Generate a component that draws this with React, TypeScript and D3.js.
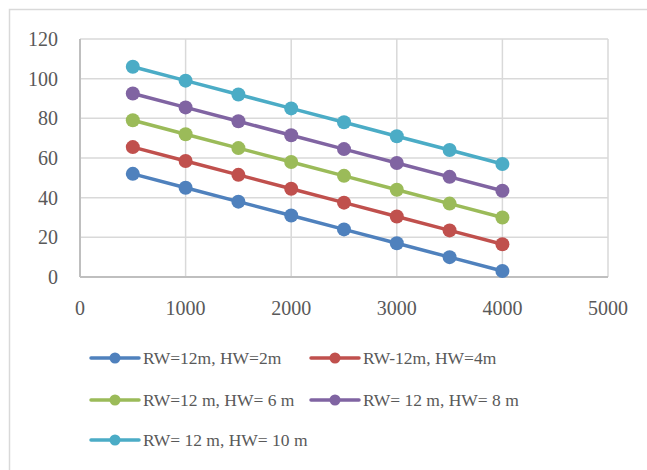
import { useEffect, useRef } from 'react';
import * as d3 from 'd3';

// x values (m) and series
const xValues = [500, 1000, 1500, 2000, 2500, 3000, 3500, 4000];
const seriesNames = [
  'RW=12m, HW=2m',
  'RW-12m, HW=4m',
  'RW=12 m, HW= 6 m',
  'RW= 12 m, HW= 8 m',
  'RW= 12 m, HW= 10 m',
];
const hw2 = [52, 45, 38, 31, 24, 17, 10, 3];
const hw4 = [65.5, 58.5, 51.5, 44.5, 37.5, 30.5, 23.5, 16.5];
const hw6 = [79, 72, 65, 58, 51, 44, 37, 30];
const hw8 = [92.5, 85.5, 78.5, 71.5, 64.5, 57.5, 50.5, 43.5];
const hw10 = [106, 99, 92, 85, 78, 71, 64, 57];
const seriesValues = [hw2, hw4, hw6, hw8, hw10];
const seriesColors = ['#4f81bd', '#c0504d', '#9bbb59', '#8064a2', '#4bacc6'];
const xTicks = [0, 1000, 2000, 3000, 4000, 5000];
const yTicks = [0, 20, 40, 60, 80, 100, 120];

export default function App() {
  const svgRef = useRef<SVGSVGElement>(null);

  useEffect(() => {
    if (!svgRef.current) return;
    const svg = d3.select(svgRef.current);
    svg.selectAll('*').remove();

    const font = '"Liberation Serif", "DejaVu Serif", serif';
    const textColor = '#595959';

    // outer chart frame
    svg
      .append('rect')
      .attr('x', 9.5)
      .attr('y', 9.5)
      .attr('width', 660)
      .attr('height', 480)
      .attr('fill', '#fff')
      .attr('stroke', '#d9d9d9')
      .attr('stroke-width', 1.5);

    const x = d3.scaleLinear().domain([0, 5000]).range([80, 608]);
    const y = d3.scaleLinear().domain([0, 120]).range([277, 39]);

    // grid
    svg
      .append('g')
      .selectAll('line')
      .data(xTicks)
      .enter()
      .append('line')
      .attr('x1', (d) => x(d))
      .attr('x2', (d) => x(d))
      .attr('y1', y(0))
      .attr('y2', y(120))
      .attr('stroke', '#d9d9d9')
      .attr('stroke-width', 1.5);

    svg
      .append('g')
      .selectAll('line')
      .data(yTicks)
      .enter()
      .append('line')
      .attr('x1', x(0))
      .attr('x2', x(5000))
      .attr('y1', (d) => y(d))
      .attr('y2', (d) => y(d))
      .attr('stroke', '#d9d9d9')
      .attr('stroke-width', 1.5);

    // axis lines
    svg
      .append('line')
      .attr('x1', x(0))
      .attr('x2', x(0))
      .attr('y1', y(0))
      .attr('y2', y(120))
      .attr('stroke', '#bfbfbf')
      .attr('stroke-width', 2);
    svg
      .append('line')
      .attr('x1', x(0))
      .attr('x2', x(5000))
      .attr('y1', y(0))
      .attr('y2', y(0))
      .attr('stroke', '#bfbfbf')
      .attr('stroke-width', 2);

    // tick labels
    svg
      .append('g')
      .selectAll('text')
      .data(yTicks)
      .enter()
      .append('text')
      .attr('x', 58)
      .attr('y', (d) => y(d) + 7)
      .attr('text-anchor', 'end')
      .attr('font-family', font)
      .attr('font-size', 20)
      .attr('fill', textColor)
      .text((d) => d);

    svg
      .append('g')
      .selectAll('text')
      .data(xTicks)
      .enter()
      .append('text')
      .attr('x', (d) => x(d))
      .attr('y', 315)
      .attr('text-anchor', 'middle')
      .attr('font-family', font)
      .attr('font-size', 20)
      .attr('fill', textColor)
      .text((d) => d);

    // series
    const line = d3
      .line<number>()
      .x((_, i) => x(xValues[i]))
      .y((d) => y(d));

    seriesValues.forEach((vals, s) => {
      const g = svg.append('g');
      g.append('path')
        .attr('d', line(vals))
        .attr('fill', 'none')
        .attr('stroke', seriesColors[s])
        .attr('stroke-width', 3.5)
        .attr('stroke-linejoin', 'round');
      g.selectAll('circle')
        .data(vals)
        .enter()
        .append('circle')
        .attr('cx', (_, i) => x(xValues[i]))
        .attr('cy', (d) => y(d))
        .attr('r', 7)
        .attr('fill', seriesColors[s]);
    });

    // legend
    const legendX = [91, 311];
    const legendY = [358, 400, 440];
    seriesNames.forEach((name, i) => {
      const lx = legendX[i % 2];
      const ly = legendY[Math.floor(i / 2)];
      const g = svg.append('g');
      g.append('line')
        .attr('x1', lx)
        .attr('x2', lx + 48)
        .attr('y1', ly)
        .attr('y2', ly)
        .attr('stroke', seriesColors[i])
        .attr('stroke-width', 3.5)
        .attr('stroke-linecap', 'round');
      g.append('circle')
        .attr('cx', lx + 24)
        .attr('cy', ly)
        .attr('r', 5.5)
        .attr('fill', seriesColors[i]);
      g.append('text')
        .attr('x', lx + 52)
        .attr('y', ly + 6)
        .attr('font-family', font)
        .attr('font-size', 17.5)
        .attr('fill', textColor)
        .text(name);
    });
  }, []);

  return (
    <svg
      ref={svgRef}
      width={647}
      height={470}
      style={{ position: 'absolute', left: 0, top: 0, background: '#fff' }}
    />
  );
}
